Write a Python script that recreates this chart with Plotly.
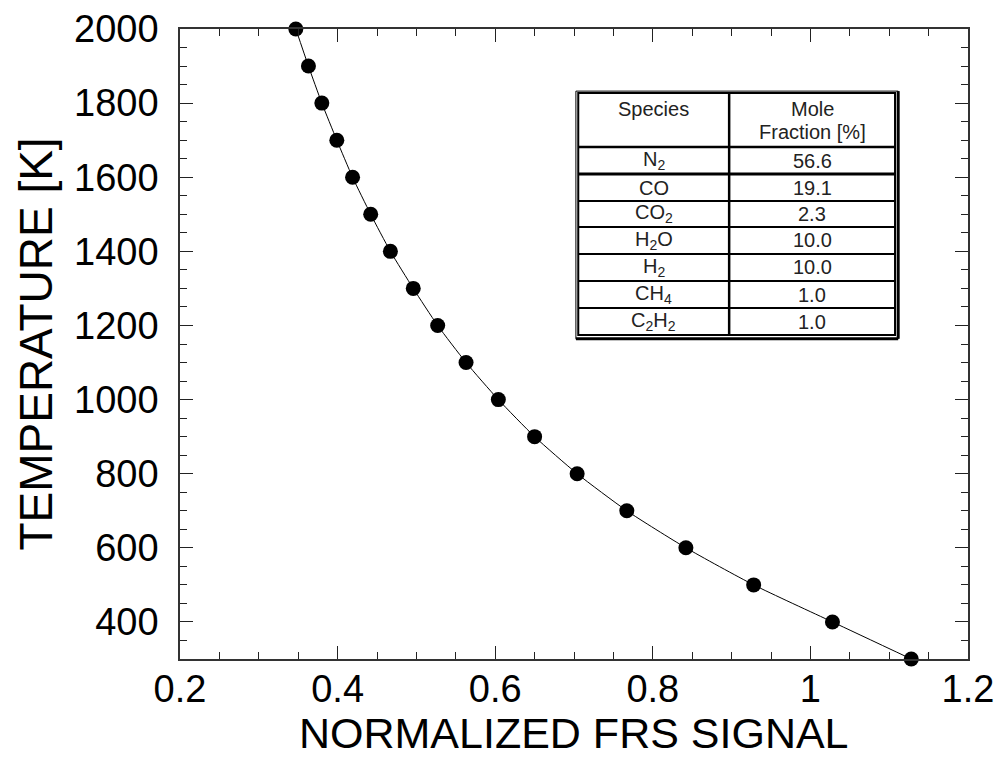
import plotly.graph_objects as go

# FRS signal vs temperature calibration curve
temperature = [2000, 1900, 1800, 1700, 1600, 1500, 1400, 1300, 1200, 1100,
               1000, 900, 800, 700, 600, 500, 400, 300]
frs_signal = [0.347, 0.363, 0.380, 0.399, 0.419, 0.442, 0.467, 0.496, 0.527, 0.563,
              0.604, 0.650, 0.704, 0.767, 0.842, 0.928, 1.028, 1.128]

# Gas mixture composition
species = ["N<sub>2</sub>", "CO", "CO<sub>2</sub>", "H<sub>2</sub>O",
           "H<sub>2</sub>", "CH<sub>4</sub>", "C<sub>2</sub>H<sub>2</sub>"]
mole_fraction = ["56.6", "19.1", "2.3", "10.0", "10.0", "1.0", "1.0"]

FONT = "Liberation Sans, Arial, sans-serif"

fig = go.Figure()
fig.add_trace(go.Scatter(
    x=frs_signal, y=temperature, mode="lines+markers",
    line=dict(color="black", width=1, shape="spline", smoothing=0.6),
    marker=dict(color="black", size=15),
    cliponaxis=False, showlegend=False,
))

axis_common = dict(
    automargin=False,
    showgrid=False, zeroline=False, showline=True, linecolor="#333", linewidth=1.5,
    mirror="allticks", ticks="inside", ticklen=13, tickwidth=1.2, tickcolor="#222",
    tickfont=dict(family=FONT, size=38, color="black"),
)

fig.update_xaxes(range=[0.2, 1.2], tick0=0.2, dtick=0.2, ticklabelstandoff=-4,
                 minor=dict(ticks="inside", ticklen=7, dtick=0.05, tickcolor="#222", tickwidth=1.2),
                 **axis_common)
fig.update_yaxes(range=[300, 2000], tick0=400, dtick=200, ticklabelstandoff=12,
                 minor=dict(ticks="inside", ticklen=7, dtick=50, tickcolor="#222", tickwidth=1.2),
                 **axis_common)

# Table geometry in paper coordinates
tx0, tx1, tdiv = 0.5054, 0.9074, 0.6969
ty_top = 0.8984
row_edges = [0.8127, 0.7698, 0.7270, 0.6857, 0.6429, 0.6000, 0.5571, 0.5143]

shapes = []
# outer double border with heavier lower-right edge
shapes.append(dict(type="rect", xref="paper", yref="paper", x0=tx0 - 0.003, x1=tx1 + 0.004,
                   y0=row_edges[-1] - 0.006, y1=ty_top + 0.003, line=dict(color="black", width=1)))
shapes.append(dict(type="rect", xref="paper", yref="paper", x0=tx0, x1=tx1,
                   y0=row_edges[-1], y1=ty_top, line=dict(color="black", width=2)))
shapes.append(dict(type="line", xref="paper", yref="paper", x0=tx1 + 0.004, x1=tx1 + 0.004,
                   y0=row_edges[-1] - 0.006, y1=ty_top + 0.003, line=dict(color="black", width=3)))
shapes.append(dict(type="line", xref="paper", yref="paper", x0=tx0 - 0.003, x1=tx1 + 0.004,
                   y0=row_edges[-1] - 0.006, y1=row_edges[-1] - 0.006, line=dict(color="black", width=3)))
# column divider
shapes.append(dict(type="line", xref="paper", yref="paper", x0=tdiv, x1=tdiv,
                   y0=row_edges[-1], y1=ty_top, line=dict(color="black", width=2.5)))
# row separators
for i, y in enumerate(row_edges[:-1]):
    w = 3 if i == 1 else (2.5 if i == 0 else 2)
    shapes.append(dict(type="line", xref="paper", yref="paper", x0=tx0, x1=tx1,
                       y0=y, y1=y, line=dict(color="black", width=w)))

annotations = []
tfont = dict(family=FONT, size=20, color="#222")
cx_a = (tx0 + tdiv) / 2
cx_b = (tdiv + tx1) / 2


def cell(x, y, text):
    return dict(x=x, y=y, xref="paper", yref="paper", text=text, showarrow=False,
                xanchor="center", yanchor="middle", font=tfont)


annotations.append(cell(cx_a, 0.873, "Species"))
annotations.append(cell(cx_b, 0.873, "Mole"))
annotations.append(cell(cx_b, 0.836, "Fraction [%]"))
for i, (sp, mf) in enumerate(zip(species, mole_fraction)):
    yc = (row_edges[i] + row_edges[i + 1]) / 2
    annotations.append(cell(cx_a, yc, sp))
    annotations.append(cell(cx_b, yc, mf))

# axis titles
annotations.append(dict(x=0.5, y=-0.117, xref="paper", yref="paper", text="NORMALIZED FRS SIGNAL",
                        showarrow=False, xanchor="center", yanchor="middle",
                        font=dict(family=FONT, size=43, color="black")))
annotations.append(dict(x=-0.1833, y=0.5, xref="paper", yref="paper", text="TEMPERATURE [K]",
                        textangle=-90, showarrow=False, xanchor="center", yanchor="middle",
                        font=dict(family=FONT, size=46, color="black")))

fig.update_layout(
    width=998, height=766,
    margin=dict(l=180, r=30, t=29, b=107),
    paper_bgcolor="white", plot_bgcolor="white",
    shapes=shapes, annotations=annotations,
)

fig.write_html("out.html")
